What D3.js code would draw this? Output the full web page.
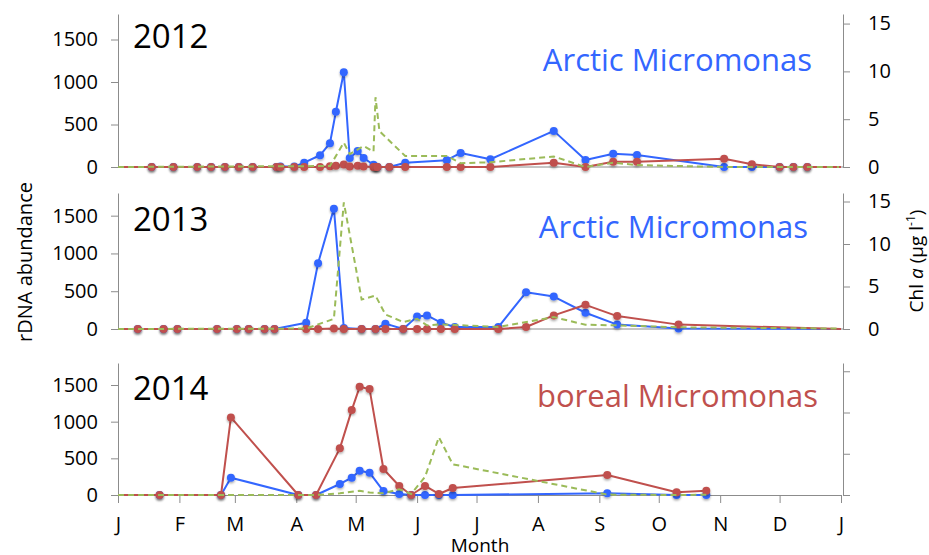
<!DOCTYPE html>
<html>
<head>
<meta charset="utf-8">
<script src="https://cdn.jsdelivr.net/npm/d3@7"></script>
<style>
  body { margin: 0; background: #fff; }
  svg { display: block; font-family: "Open Sans", sans-serif; }
</style>
</head>
<body>
<svg id="chart" width="929" height="555"></svg>
<script>
// month labels on the shared time axis
const monthLabels = ["J", "F", "M", "A", "M", "J", "J", "A", "S", "O", "N", "D", "J"];
const yearLabels = ["2012", "2013", "2014"];
const groupLabels = ["Arctic Micromonas", "Arctic Micromonas", "boreal Micromonas"];
const leftTicks = [0, 500, 1000, 1500];
const rightTicks = [0, 5, 10, 15];

// 2012 sampling
const dates2012 = ["01-18", "01-29", "02-10", "02-17", "02-24", "03-03", "03-10", "03-22", "03-24", "03-31",
  "04-05", "04-13", "04-18", "04-21", "04-25", "04-28", "05-02", "05-05", "05-10", "05-11", "05-12",
  "05-18", "05-26", "06-16", "06-23", "07-08", "08-09", "08-25", "09-08", "09-20", "11-03", "11-17",
  "12-01", "12-08", "12-15"];
const arctic2012 = [0, 0, 0, 0, 0, 0, 0, 0, 5, 5,
  51, 138, 280, 650, 1115, 106, 189, 106, 27, 5, 0,
  0, 51, 80, 165, 91, 425, 83, 157, 142, 0, 0,
  0, 0, 0];
const boreal2012 = [0, 0, 0, 0, 0, 0, 0, 0, 0, 0,
  0, 0, 10, 15, 30, 5, 15, 5, 0, 0, 0,
  0, 0, 0, 0, 0, 51, 0, 63, 63, 98, 32,
  0, 0, 0];
const chlDates2012 = ["01-01", "04-18", "04-25", "04-28", "05-05", "05-10", "05-11", "05-13", "05-26",
  "06-16", "06-23", "07-08", "08-09", "08-25", "09-08", "09-20", "11-03", "12-31"];
const chl2012 = [0, 0.1, 2.55, 1.35, 2.2, 1.6, 7.3, 3.75, 1.15,
  1.15, 0.4, 0.5, 1.1, 0, 0.45, 0.2, 0, 0];

// 2013 sampling
const dates2013 = ["01-11", "01-24", "01-31", "02-20", "03-02", "03-08", "03-16", "03-21",
  "04-06", "04-12", "04-20", "04-25", "05-04", "05-11", "05-16", "05-25", "06-01", "06-06",
  "06-13", "06-20", "07-12", "07-26", "08-09", "08-25", "09-10", "10-11"];
const arctic2013 = [0, 0, 0, 0, 0, 0, 0, 0,
  84, 871, 1593, 13, 0, 0, 71, 0, 167, 180,
  84, 26, 26, 486, 429, 215, 58, 5];
const boreal2013 = [0, 0, 0, 0, 0, 0, 0, 0,
  0, 0, 5, 0, 0, 0, 0, 0, 0, 0,
  0, 0, 0, 26, 180, 320, 171, 58];
const chlDates2013 = ["01-01", "04-06", "04-20", "04-25", "05-04", "05-11", "05-16", "05-25", "06-01",
  "06-06", "06-13", "07-12", "08-09", "08-25", "09-10", "10-11", "12-31"];
const chl2013 = [0, 0.05, 1.2, 14.9, 3.46, 3.93, 1.71, 0.82, 1.2,
  0.43, 0.55, 0.23, 1.4, 0.5, 0.43, 0.2, 0.05];

// 2014 sampling
const dates2014 = ["01-22", "02-22", "02-27", "04-02", "04-11", "04-23", "04-29", "05-03", "05-08",
  "05-15", "05-23", "05-29", "06-05", "06-12", "06-19", "09-05", "10-10", "10-25"];
const arctic2014 = [0, 0, 236, 0, 0, 150, 236, 331, 304,
  54, 14, 0, 0, 0, 0, 23, 0, 0];
const boreal2014 = [0, 0, 1058, 0, 0, 636, 1158, 1475, 1444,
  354, 123, 0, 123, 14, 95, 272, 37, 59];
const chlDates2014 = ["01-01", "01-22", "02-22", "02-27", "04-02", "04-11", "04-23", "04-29", "05-03", "05-08",
  "05-15", "05-23", "05-29", "06-05", "06-12", "06-19", "09-05", "10-10", "10-25"];
const chl2014 = [0, 0, 0, 0, 0, 0, 0.2, 0.4, 0.5, 0.3,
  0.2, 0.7, 0.12, 2.2, 7.0, 3.72, 0.05, 0, 0.03];

const blue = "#3366ff", red = "#c0504d", green = "#9bbb59", axisGray = "#8c8c8c";

// all years drawn on one common calendar
const parseDay = s => { const p = s.split("-"); return new Date(2013, +p[0] - 1, +p[1]); };

const panels = [
  { top: 14, bottom: 167, dates: dates2012, arctic: arctic2012, boreal: boreal2012,
    chlDates: chlDates2012, chl: chl2012, padEnd: true, titleX: 812, titleY: 71, yearY: 48, color: blue,
    rightLabels: true },
  { top: 193, bottom: 329, dates: dates2013, arctic: arctic2013, boreal: boreal2013,
    chlDates: chlDates2013, chl: chl2013, padEnd: true, titleX: 808, titleY: 238, yearY: 231, color: blue,
    rightLabels: true },
  { top: 363, bottom: 495, dates: dates2014, arctic: arctic2014, boreal: boreal2014,
    chlDates: chlDates2014, chl: chl2014, padEnd: false, titleX: 818, titleY: 407, yearY: 400, color: red,
    rightLabels: false }
];

const svg = d3.select("#chart");
const x0 = 118, x1 = 841, rightAxisX = 843;

const x = d3.scaleTime()
  .domain([new Date(2013, 0, 1), new Date(2014, 0, 1)])
  .range([x0, x1]);

const defs = svg.append("defs");
const shadow = defs.append("filter").attr("id", "shadow")
  .attr("x", "-50%").attr("y", "-50%").attr("width", "200%").attr("height", "200%");
shadow.append("feDropShadow").attr("dx", 0).attr("dy", 1.5).attr("stdDeviation", 1)
  .attr("flood-color", "#000").attr("flood-opacity", 0.35);

function styleAxis(a) {
  a.select(".domain").attr("stroke", axisGray);
  a.selectAll(".tick line").attr("stroke", axisGray);
  a.selectAll("text").attr("font-size", 20).attr("fill", "#000").attr("font-family", "Open Sans, sans-serif");
}

panels.forEach(function (p, i) {
  const yL = d3.scaleLinear().domain([0, 1800]).range([p.bottom, p.top]);
  const yR = d3.scaleLinear().domain([0, 16]).range([p.bottom, p.top]);
  const g = svg.append("g");

  // left axis
  g.append("g").attr("transform", "translate(" + x0 + ",0)")
    .call(d3.axisLeft(yL).tickValues(leftTicks).tickSize(7).tickPadding(13).tickSizeOuter(0)
      .tickFormat(d3.format("d")))
    .call(styleAxis);
  // right axis
  g.append("g").attr("transform", "translate(" + rightAxisX + ",0)")
    .call(d3.axisRight(yR).tickValues(rightTicks).tickSize(7).tickPadding(18).tickSizeOuter(0)
      .tickFormat(p.rightLabels ? d3.format("d") : ""))
    .call(styleAxis);

  // baseline / month axis
  if (i === 2) {
    const months = d3.timeMonth.range(new Date(2013, 0, 1), new Date(2014, 0, 2));
    g.append("g").attr("transform", "translate(0," + p.bottom + ")")
      .call(d3.axisBottom(x).tickValues(months).tickSize(8).tickPadding(14).tickSizeOuter(0)
        .tickFormat((d, k) => monthLabels[k]))
      .call(styleAxis);
  } else {
    g.append("line").attr("x1", x0).attr("x2", rightAxisX)
      .attr("y1", p.bottom).attr("y2", p.bottom).attr("stroke", axisGray);
  }

  // rows: sampling date + value, line padded with zeros to the axis ends
  function rows(vals) {
    const r = p.dates.map((d, k) => ({ date: parseDay(d), v: vals[k] }));
    const line = [{ date: new Date(2013, 0, 1), v: 0 }].concat(r);
    if (p.padEnd) line.push({ date: new Date(2014, 0, 1), v: 0 });
    return { pts: r, line: line };
  }
  const lineL = d3.line().x(d => x(d.date)).y(d => yL(d.v));

  // blue first, red over it
  const series = [
    { data: rows(p.arctic), color: blue },
    { data: rows(p.boreal), color: red }
  ];

  series.forEach(s => {
    g.append("path").datum(s.data.line)
      .attr("d", lineL).attr("fill", "none")
      .attr("stroke", s.color).attr("stroke-width", 2).attr("stroke-linejoin", "round");
    g.append("g").selectAll("circle").data(s.data.pts).join("circle")
      .attr("cx", d => x(d.date)).attr("cy", d => yL(d.v)).attr("r", 4)
      .attr("fill", s.color).attr("filter", "url(#shadow)");
  });

  // chlorophyll a, dashed on right axis
  const chlRows = p.chlDates.map((d, k) => ({ date: parseDay(d), v: p.chl[k] }));
  g.append("path").datum(chlRows)
    .attr("d", d3.line().x(d => x(d.date)).y(d => yR(d.v)))
    .attr("fill", "none").attr("stroke", green).attr("stroke-width", 2)
    .attr("stroke-dasharray", "6,4");

  // year and group labels
  g.append("text").attr("x", 133).attr("y", p.yearY).attr("font-size", 33).text(yearLabels[i]);
  g.append("text").attr("x", p.titleX).attr("y", p.titleY).attr("text-anchor", "end")
    .attr("font-size", 31).attr("fill", p.color).text(groupLabels[i]);
});

// axis titles
svg.append("text").attr("transform", "translate(32,262) rotate(-90)")
  .attr("text-anchor", "middle").attr("font-size", 20).text("rDNA abundance");

const chlT = svg.append("text").attr("transform", "translate(923,261) rotate(-90)")
  .attr("text-anchor", "middle").attr("font-size", 19);
chlT.append("tspan").text("Chl ");
chlT.append("tspan").attr("font-style", "italic").text("a");
chlT.append("tspan").text(" (µg l");
chlT.append("tspan").attr("font-size", 12).attr("dy", -8).text("-1");
chlT.append("tspan").attr("dy", 8).text(")");

svg.append("text").attr("x", 480).attr("y", 552).attr("text-anchor", "middle")
  .attr("font-size", 19).text("Month");
</script>
</body>
</html>
